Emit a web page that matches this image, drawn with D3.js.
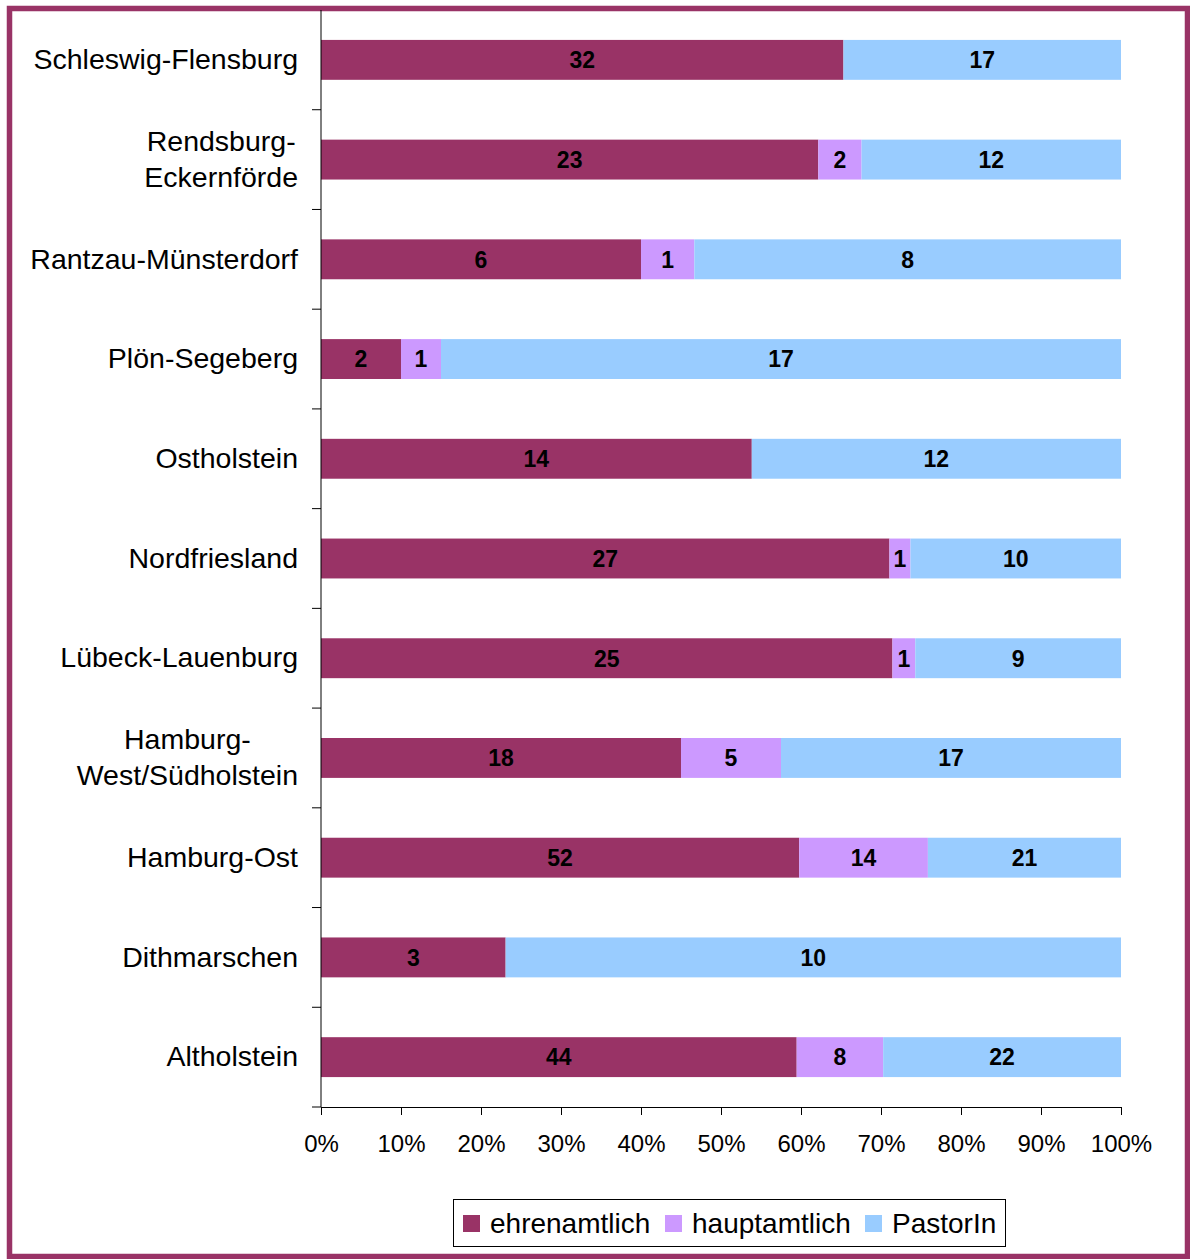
<!DOCTYPE html>
<html>
<head>
<meta charset="utf-8">
<script src="https://cdn.jsdelivr.net/npm/d3@7"></script>
<style>
  body { margin: 0; background: #fff; }
  text { font-family: Arial, "Liberation Sans", sans-serif; }
</style>
</head>
<body>
<svg id="chart" width="1190" height="1259"></svg>
<script>
// data
var categories = ['Schleswig-Flensburg', 'Rendsburg-\nEckernförde', 'Rantzau-Münsterdorf', 'Plön-Segeberg',
  'Ostholstein', 'Nordfriesland', 'Lübeck-Lauenburg', 'Hamburg-\nWest/Südholstein', 'Hamburg-Ost',
  'Dithmarschen', 'Altholstein'];
var seriesNames = ['ehrenamtlich', 'hauptamtlich', 'PastorIn'];
var ehrenamtlich = [32, 23, 6, 2, 14, 27, 25, 18, 52, 3, 44];
var hauptamtlich = [0, 2, 1, 1, 0, 1, 1, 5, 14, 0, 8];
var pastorin = [17, 12, 8, 17, 12, 10, 9, 17, 21, 10, 22];
var xTicks = [0, 0.1, 0.2, 0.3, 0.4, 0.5, 0.6, 0.7, 0.8, 0.9, 1];
var colors = ['#993366', '#CC99FF', '#99CCFF'];

var svg = d3.select('#chart');
var margin = { top: 10, right: 69, bottom: 152, left: 321 };
var W = 1190, H = 1259;
var innerW = W - margin.left - margin.right;
var innerH = H - margin.top - margin.bottom;

// outer frame
svg.append('rect')
  .attr('x', 9.5).attr('y', 8.5)
  .attr('width', 1178).attr('height', 1248)
  .attr('fill', 'none')
  .attr('stroke', '#993366')
  .attr('stroke-width', 5.5);

var table = categories.map(function(c, i) {
  return { cat: c, ehrenamtlich: ehrenamtlich[i], hauptamtlich: hauptamtlich[i], PastorIn: pastorin[i] };
});
table.forEach(function(d) {
  d.total = d.ehrenamtlich + d.hauptamtlich + d.PastorIn;
});

var stack = d3.stack().keys(seriesNames)
  .value(function(d, key) { return d[key] / d.total; });
var layers = stack(table);

var x = d3.scaleLinear().domain([0, 1]).range([0, innerW]);
var y = d3.scaleBand().domain(categories).range([0, innerH]).paddingInner(0.6).paddingOuter(0.3);
var yLine = d3.scaleLinear().domain([0, categories.length]).range([0, innerH]);

var g = svg.append('g').attr('transform', 'translate(' + margin.left + ',' + margin.top + ')');

layers.forEach(function(layer, li) {
  var lg = g.append('g');
  lg.selectAll('rect').data(layer).enter().append('rect')
    .attr('x', function(d) { return x(d[0]); })
    .attr('width', function(d) { return x(d[1]) - x(d[0]); })
    .attr('y', function(d) { return y(d.data.cat); })
    .attr('height', y.bandwidth())
    .attr('fill', colors[li]);
  lg.selectAll('text').data(layer.filter(function(d) { return d.data[seriesNames[li]] > 0; }))
    .enter().append('text')
    .attr('x', function(d) { return x((d[0] + d[1]) / 2); })
    .attr('y', function(d) { return y(d.data.cat) + y.bandwidth() / 2; })
    .attr('dy', '0.36em')
    .attr('text-anchor', 'middle')
    .attr('font-size', 23)
    .attr('font-weight', 'bold')
    .text(function(d) { return d.data[seriesNames[li]]; });
});

// y axis line and ticks at band boundaries
g.append('line').attr('x1', 0).attr('x2', 0).attr('y1', 0).attr('y2', innerH)
  .attr('stroke', '#000').attr('stroke-width', 1);
g.selectAll('.ytick').data(d3.range(1, categories.length + 1)).enter().append('line')
  .attr('class', 'ytick')
  .attr('x1', -9).attr('x2', 0)
  .attr('y1', function(d) { return yLine(d); }).attr('y2', function(d) { return yLine(d); })
  .attr('stroke', '#000');

// x axis
var xAxis = d3.axisBottom(x).tickValues(xTicks).tickFormat(d3.format('.0%')).tickSizeOuter(0).tickSize(8);
var xg = g.append('g').attr('transform', 'translate(0,' + innerH + ')').call(xAxis);
xg.select('.domain').attr('stroke', '#000');
xg.selectAll('.tick line').attr('stroke', '#000');
xg.selectAll('.tick text')
  .attr('font-size', 24)
  .attr('font-family', 'Arial, "Liberation Sans", sans-serif')
  .attr('fill', '#000')
  .attr('y', 36)
  .attr('dy', '0.36em');

// category labels
var labelRight = -23;
categories.forEach(function(c) {
  var lines = c.split('\n');
  var cy = y(c) + y.bandwidth() / 2;
  var t = g.append('text').attr('font-size', 28.5).attr('fill', '#000');
  var lh = 36;
  lines.forEach(function(l, i) {
    t.append('tspan').attr('x', 0).attr('y', cy + (i - (lines.length - 1) / 2) * lh - 1).attr('dy', '0.36em').text(l);
  });
  if (lines.length === 1) {
    t.attr('text-anchor', 'end').selectAll('tspan').attr('x', labelRight);
  } else {
    var maxW = 0;
    t.selectAll('tspan').each(function() { maxW = Math.max(maxW, this.getComputedTextLength()); });
    t.attr('text-anchor', 'middle').selectAll('tspan').attr('x', labelRight - maxW / 2);
  }
});

// legend
var legend = svg.append('g');
legend.append('rect').attr('x', 453.5).attr('y', 1199.5).attr('width', 552).attr('height', 47)
  .attr('fill', '#fff').attr('stroke', '#000').attr('stroke-width', 1);
var lx = [463, 665, 865];
seriesNames.forEach(function(s, i) {
  legend.append('rect').attr('x', lx[i]).attr('y', 1215).attr('width', 17).attr('height', 17).attr('fill', colors[i]);
  legend.append('text').attr('x', lx[i] + 27).attr('y', 1223).attr('dy', '0.36em')
    .attr('font-size', 28).attr('fill', '#000').text(s);
});
</script>
</body>
</html>
